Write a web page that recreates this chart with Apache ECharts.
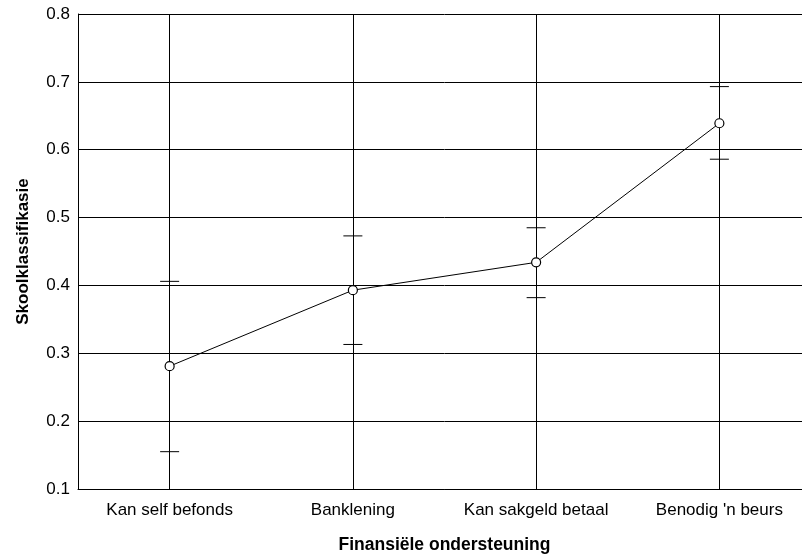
<!DOCTYPE html>
<html>
<head>
<meta charset="utf-8">
<script src="https://cdn.jsdelivr.net/npm/echarts@6/dist/echarts.min.js"></script>
<style>
  html, body { margin: 0; padding: 0; background: #fff; overflow: hidden; }
  /* the last category band runs past the right edge of the window */
  #chart { width: 811px; height: 559px; }
</style>
</head>
<body>
<div id="chart"></div>
<script>
// Mean school classification per financial-support group, with error bars
const categories = ['Kan self befonds', 'Banklening', 'Kan sakgeld betaal', "Benodig 'n beurs"];
const means = [0.281, 0.393, 0.434, 0.639];
const upper = [0.406, 0.473, 0.485, 0.693];
const lower = [0.155, 0.313, 0.382, 0.586];
const yTicks = { min: 0.1, max: 0.8, interval: 0.1 };

const font = 'Liberation Sans, Arial, sans-serif';

const chart = echarts.init(document.getElementById('chart'));

const errorData = categories.map((c, i) => [i, lower[i], upper[i]]);

chart.setOption({
  animation: false,
  grid: { left: 78, top: 14, right: 0, height: 480, containLabel: false },
  xAxis: {
    type: 'category',
    data: categories,
    boundaryGap: true,
    name: 'Finansiële ondersteuning',
    nameLocation: 'middle',
    nameGap: 47,
    nameTextStyle: { fontFamily: font, fontWeight: 'bold', fontSize: 17.5, color: '#000' },
    axisLine: { lineStyle: { color: '#000', width: 1 } },
    axisTick: { show: false },
    axisLabel: { color: '#000', fontFamily: font, fontSize: 17, margin: 13, interval: 0 },
    splitLine: { show: false }
  },
  yAxis: {
    type: 'value',
    min: yTicks.min,
    max: yTicks.max,
    interval: yTicks.interval,
    name: 'Skoolklassifikasie',
    nameLocation: 'middle',
    nameGap: 46,
    nameTextStyle: { fontFamily: font, fontWeight: 'bold', fontSize: 17, color: '#000' },
    axisLine: { show: true, lineStyle: { color: '#000', width: 1 } },
    axisTick: { show: false },
    axisLabel: { color: '#000', fontFamily: font, fontSize: 17, margin: 8,
      formatter: v => v.toFixed(1) },
    splitLine: { show: true, lineStyle: { color: '#000', width: 1 } }
  },
  series: [
    {
      type: 'custom',
      name: 'fout',
      data: errorData,
      z: 3,
      renderItem: (params, api) => {
        const x = api.coord([api.value(0), api.value(1)])[0];
        const yLo = api.coord([api.value(0), api.value(1)])[1];
        const yHi = api.coord([api.value(0), api.value(2)])[1];
        const cap = 9.5;
        const style = { stroke: '#000', lineWidth: 1 };
        return {
          type: 'group',
          children: [
            { type: 'line', shape: { x1: x - cap, y1: yHi, x2: x + cap, y2: yHi }, style },
            { type: 'line', shape: { x1: x - cap, y1: yLo, x2: x + cap, y2: yLo }, style }
          ]
        };
      }
    },
    {
      type: 'line',
      name: 'gemiddelde',
      data: means,
      z: 5,
      symbol: 'circle',
      symbolSize: 9,
      itemStyle: { color: '#fff', borderColor: '#000', borderWidth: 1.2 },
      lineStyle: { color: '#000', width: 1 },
      markLine: {
        silent: true,
        symbol: 'none',
        label: { show: false },
        lineStyle: { color: '#000', width: 1, type: 'solid' },
        data: categories.map(c => ({ xAxis: c }))
      }
    }
  ]
});
</script>
</body>
</html>
